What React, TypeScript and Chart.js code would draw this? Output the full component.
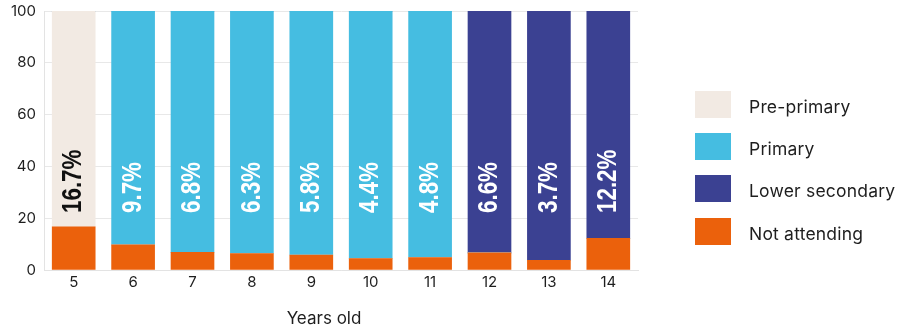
import React, { useEffect, useRef } from "react";
import { Chart, registerables } from "chart.js";

Chart.register(...registerables);

const ages = ["5", "6", "7", "8", "9", "10", "11", "12", "13", "14"];
const notAttending = [16.7, 9.7, 6.8, 6.3, 5.8, 4.4, 4.8, 6.6, 3.7, 12.2];
const prePrimary = [83.3, 0, 0, 0, 0, 0, 0, 0, 0, 0];
const primary = [0, 90.3, 93.2, 93.7, 94.2, 95.6, 95.2, 0, 0, 0];
const lowerSecondary = [0, 0, 0, 0, 0, 0, 0, 93.4, 96.3, 87.8];
const yTicks = [0, 20, 40, 60, 80, 100];
const xTitle = "Years old";

const COLORS = {
  pre: "#F2EAE3",
  primary: "#45BDE1",
  lower: "#3B4192",
  not: "#EB610C",
};

const legendItems = [
  { label: "Pre-primary", color: COLORS.pre },
  { label: "Primary", color: COLORS.primary },
  { label: "Lower secondary", color: COLORS.lower },
  { label: "Not attending", color: COLORS.not },
];

const TEXT = "#1e1e1e";
const FONT = "Inter, 'Liberation Sans', sans-serif";

export default function App() {
  const ref = useRef<HTMLCanvasElement | null>(null);

  useEffect(() => {
    document.body.style.margin = "0";
    const canvas = ref.current;
    if (!canvas) return;

    const labelPlugin = {
      id: "barLabels",
      afterDatasetsDraw(chart: any) {
        const ctx = chart.ctx;
        const xs = chart.scales.x;
        const ys = chart.scales.y;
        ctx.save();
        ctx.font = "bold 28px 'Liberation Sans', Arial, sans-serif";
        ctx.textAlign = "left";
        ctx.textBaseline = "middle";
        notAttending.forEach((v, i) => {
          const xc = xs.getPixelForValue(i) - 1;
          const yc = ys.getPixelForValue(22);
          ctx.save();
          ctx.translate(xc, yc);
          ctx.rotate(-Math.PI / 2);
          ctx.scale(0.8, 1);
          ctx.fillStyle = prePrimary[i] > 0 ? "#111111" : "#ffffff";
          ctx.fillText(v.toFixed(1) + "%", 0, 1);
          ctx.restore();
        });
        // axis title
        ctx.font = "17px " + FONT;
        ctx.fillStyle = TEXT;
        ctx.textAlign = "center";
        ctx.textBaseline = "middle";
        const ca = chart.chartArea;
        ctx.fillText(xTitle, (ca.left + ca.right) / 2 - 17, 319);
        ctx.restore();
      },
    };

    const chart = new Chart(canvas, {
      type: "bar",
      data: {
        labels: ages,
        datasets: [
          { label: "Not attending", data: notAttending, backgroundColor: COLORS.not },
          { label: "Pre-primary", data: prePrimary, backgroundColor: COLORS.pre },
          { label: "Primary", data: primary, backgroundColor: COLORS.primary },
          { label: "Lower secondary", data: lowerSecondary, backgroundColor: COLORS.lower },
        ],
      },
      options: {
        responsive: false,
        animation: false,
        layout: { padding: { top: 11, right: 267, left: 0, bottom: 0 } },
        datasets: { bar: { barThickness: 43 } },
        plugins: {
          legend: { display: false },
          tooltip: { enabled: false },
        },
        scales: {
          x: {
            stacked: true,
            grid: { display: false, drawTicks: false },
            border: { display: true, color: "#e3e3e3", width: 1 },
            ticks: { color: TEXT, font: { family: FONT, size: 15 }, padding: 3 },
            afterFit(scale: any) {
              scale.height = 62;
              scale.paddingLeft = 0;
              scale.paddingRight = 0;
            },
          },
          y: {
            stacked: true,
            min: 0,
            max: 100,
            afterBuildTicks(scale: any) {
              scale.ticks = yTicks.map((v) => ({ value: v }));
            },
            grid: { color: "#e8e8e8", lineWidth: 1, drawTicks: false },
            border: { display: true, color: "#e3e3e3", width: 1 },
            ticks: { color: TEXT, font: { family: FONT, size: 15 }, padding: 8 },
            afterFit(scale: any) {
              scale.width = 44;
              scale.paddingTop = 0;
              scale.paddingBottom = 0;
            },
          },
        },
      },
      plugins: [labelPlugin],
    });
    return () => chart.destroy();
  }, []);

  return (
    <div style={{ position: "relative", width: 905, height: 332, background: "#fff" }}>
      <canvas ref={ref} width={905} height={332} style={{ position: "absolute", left: 0, top: 0 }} />
      {legendItems.map((it, i) => (
        <div
          key={it.label}
          style={{
            position: "absolute",
            left: 695,
            top: 91 + i * 42.2,
            height: 27,
            display: "flex",
            alignItems: "center",
            fontFamily: FONT,
            fontSize: 17.5,
            letterSpacing: 0.2,
            color: TEXT,
            whiteSpace: "nowrap",
          }}
        >
          <div style={{ width: 36, height: 27, background: it.color, marginRight: 18 }} />
          <span style={{ position: "relative", top: 2 }}>{it.label}</span>
        </div>
      ))}
    </div>
  );
}
